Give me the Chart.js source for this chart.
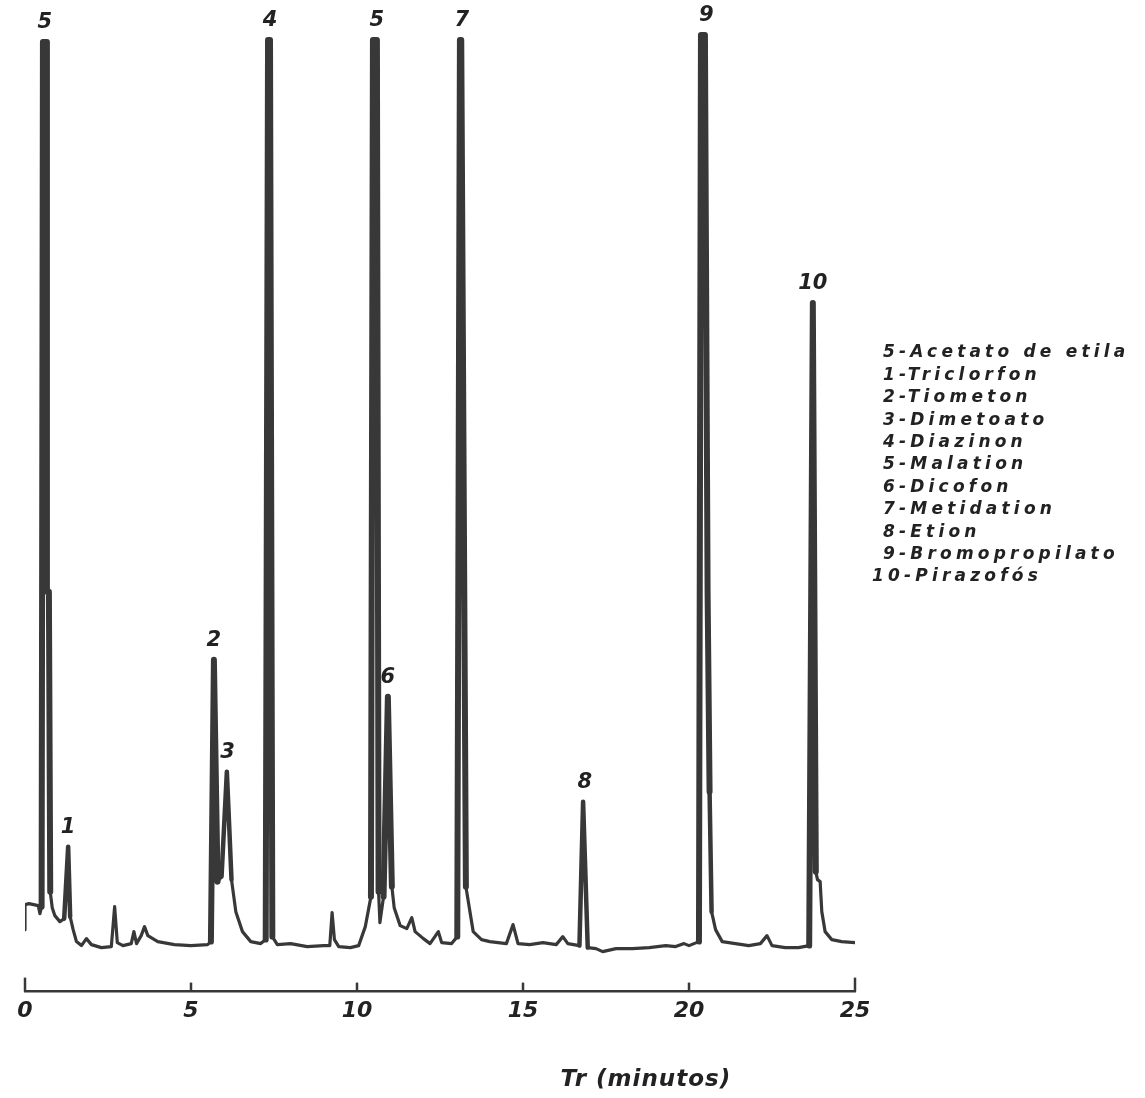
<!DOCTYPE html>
<html>
<head>
<meta charset="utf-8">
<script src="https://cdn.jsdelivr.net/npm/chart.js@4/dist/chart.umd.min.js"></script>
<style>
  body { margin: 0; background: #fff; }
  #wrap { width: 1145px; height: 1098px; }
</style>
</head>
<body>
<div id="wrap"><canvas id="chromChart" width="1145" height="1098"></canvas></div>
<script>
// retention time (min) and detector signal
const timeMin = [0.00, 0.00, 0.12, 0.40, 0.45, 0.50, 0.54, 0.66, 0.66, 0.72, 0.76, 0.82, 0.90, 1.05, 1.18, 1.30, 1.36, 1.45, 1.55, 1.70, 1.85,
  2.00, 2.30, 2.60, 2.70, 2.78, 2.95, 3.20, 3.28, 3.36, 3.50, 3.60, 3.70, 4.00, 4.50, 5.00, 5.50, 5.60, 5.69, 5.80, 5.92,
  6.08, 6.22, 6.35, 6.55, 6.80, 7.10, 7.25, 7.32, 7.38, 7.45, 7.60, 8.00, 8.50, 9.00, 9.18, 9.25, 9.32, 9.45, 9.80, 10.05, 10.25,
  10.42, 10.48, 10.60, 10.65, 10.69, 10.80, 10.93, 11.05, 11.12, 11.30, 11.50, 11.65, 11.75, 12.00, 12.20, 12.45, 12.55, 12.85, 13.02, 13.10, 13.14, 13.28,
  13.50, 13.75, 14.00, 14.50, 14.70, 14.85, 15.20, 15.60, 16.00, 16.20, 16.35, 16.70, 16.81, 16.95, 17.20, 17.40, 17.80, 18.30, 18.80, 19.30,
  19.60, 19.85, 20.00, 20.30, 20.36, 20.48, 20.56, 20.62, 20.68, 20.80, 21.00, 21.40, 21.80, 22.15, 22.35, 22.50, 22.90, 23.30, 23.62, 23.73,
  23.82, 23.87, 23.95, 24.00, 24.10, 24.30, 24.60, 25.00];
const signal = [6.2, 8.7, 8.8, 8.6, 7.8, 8.5, 95.0, 95.0, 40.0, 40.0, 10.0, 8.4, 7.6, 7.0, 7.3, 14.5, 7.5, 6.2, 5.0, 4.6, 5.3,
  4.7, 4.4, 4.5, 8.5, 4.9, 4.6, 4.8, 6.0, 4.8, 5.6, 6.5, 5.6, 5.0, 4.7, 4.6, 4.7, 5.0, 33.2, 11.0, 11.5,
  22.0, 11.2, 8.0, 6.0, 5.0, 4.8, 5.2, 95.2, 95.2, 5.5, 4.7, 4.8, 4.5, 4.6, 4.6, 7.9, 5.2, 4.5, 4.4, 4.6, 6.5,
  9.5, 95.2, 95.2, 10.0, 6.9, 9.5, 29.5, 10.5, 8.4, 6.6, 6.3, 7.4, 6.0, 5.3, 4.8, 6.0, 4.9, 4.8, 5.5, 95.2, 95.2, 10.5,
  6.0, 5.2, 5.0, 4.8, 6.7, 4.8, 4.7, 4.9, 4.7, 5.5, 4.8, 4.6, 19.0, 4.4, 4.3, 4.0, 4.3, 4.3, 4.4, 4.6,
  4.5, 4.8, 4.6, 5.0, 95.7, 95.7, 40.0, 20.0, 8.0, 6.2, 5.0, 4.8, 4.6, 4.8, 5.6, 4.6, 4.4, 4.4, 4.6, 68.9,
  12.0, 11.2, 11.0, 8.0, 6.0, 5.2, 5.0, 4.9];

// peak numbers written above each peak
const peakNums = ["5", "1", "2", "3", "4", "5", "6", "7", "8", "9", "10"];
const peakTimes = [0.60, 1.30, 5.69, 6.10, 7.38, 10.60, 10.93, 13.16, 16.86, 20.52, 23.73];
const peakTops = [95.0, 14.5, 33.2, 22.0, 95.2, 95.2, 29.5, 95.2, 19.0, 95.7, 68.9];

const legendLines = [
  "5-Acetato de etila", "1-Triclorfon", "2-Tiometon", "3-Dimetoato", "4-Diazinon", "5-Malation",
  "6-Dicofon", "7-Metidation", "8-Etion", "9-Bromopropilato", "10-Pirazofós"
];
const xTicks = [0, 5, 10, 15, 20, 25];
const axisTitle = "Tr (minutos)";

const ink = "#383838";
const letterFont = "'DejaVu Sans', sans-serif";

// pen strokes on the tall peaks are heavier, as on the recorder paper
function penWidth(c) {
  const a = c.p0.parsed.y, b = c.p1.parsed.y;
  if (Math.abs(a - b) > 15 || Math.min(a, b) > 30) return 6;
  if (Math.max(a, b) > 12) return 4.5;
  return 3.2;
}

const annotations = {
  id: "annotations",
  afterDraw(chart) {
    const { ctx } = chart;
    const xs = chart.scales.x;
    const ys = chart.scales.y;
    ctx.save();
    ctx.fillStyle = "#222";
    ctx.strokeStyle = ink;

    // upward tick marks on the time axis
    ctx.lineWidth = 2.5;
    xTicks.forEach((t) => {
      const px = xs.getPixelForValue(t);
      ctx.beginPath();
      ctx.moveTo(px, xs.top);
      ctx.lineTo(px, xs.top - (t === 0 || t === 25 ? 14 : 9));
      ctx.stroke();
    });

    // peak numbers
    ctx.font = `italic bold 21px ${letterFont}`;
    ctx.textAlign = "center";
    ctx.textBaseline = "middle";
    peakNums.forEach((n, i) => {
      const px = xs.getPixelForValue(peakTimes[i]);
      const py = ys.getPixelForValue(peakTops[i]) - 19;
      ctx.fillText(n, px, py);
    });

    // axis title
    ctx.font = `italic bold 23px ${letterFont}`;
    ctx.letterSpacing = "1px";
    ctx.fillText(axisTitle, xs.getPixelForValue(18.7), xs.bottom + 50);

    // compound list
    ctx.font = `italic bold 17px ${letterFont}`;
    ctx.letterSpacing = "4.2px";
    ctx.textAlign = "left";
    legendLines.forEach((s, i) => {
      const lx = s.startsWith("10") ? 872 : 883;
      ctx.fillText(s, lx, 353 + i * 22.4);
    });
    ctx.restore();
  },
};

const ctx = document.getElementById("chromChart").getContext("2d");
new Chart(ctx, {
  type: "line",
  data: {
    datasets: [{
      data: timeMin.map((t, i) => ({ x: t, y: signal[i] })),
      borderColor: ink,
      borderWidth: 3.2,
      borderJoinStyle: "round",
      borderCapStyle: "round",
      segment: { borderWidth: penWidth },
      pointRadius: 0,
      tension: 0,
      fill: false,
    }],
  },
  options: {
    responsive: false,
    animation: false,
    devicePixelRatio: 1,
    layout: { padding: { left: 25, right: 290, top: 30, bottom: 68 } },
    plugins: { legend: { display: false }, tooltip: { enabled: false } },
    scales: {
      x: {
        type: "linear",
        min: 0,
        max: 25,
        afterBuildTicks: (scale) => { scale.ticks = xTicks.map((v) => ({ value: v })); },
        grid: { display: false, drawTicks: false },
        border: { display: true, color: ink, width: 2.5 },
        ticks: {
          color: "#222",
          padding: 6,
          font: { family: letterFont, size: 22, style: "italic", weight: "bold" },
        },
      },
      y: {
        display: false,
        min: 0,
        max: 96.2,
      },
    },
  },
  plugins: [annotations],
});
</script>
</body>
</html>
